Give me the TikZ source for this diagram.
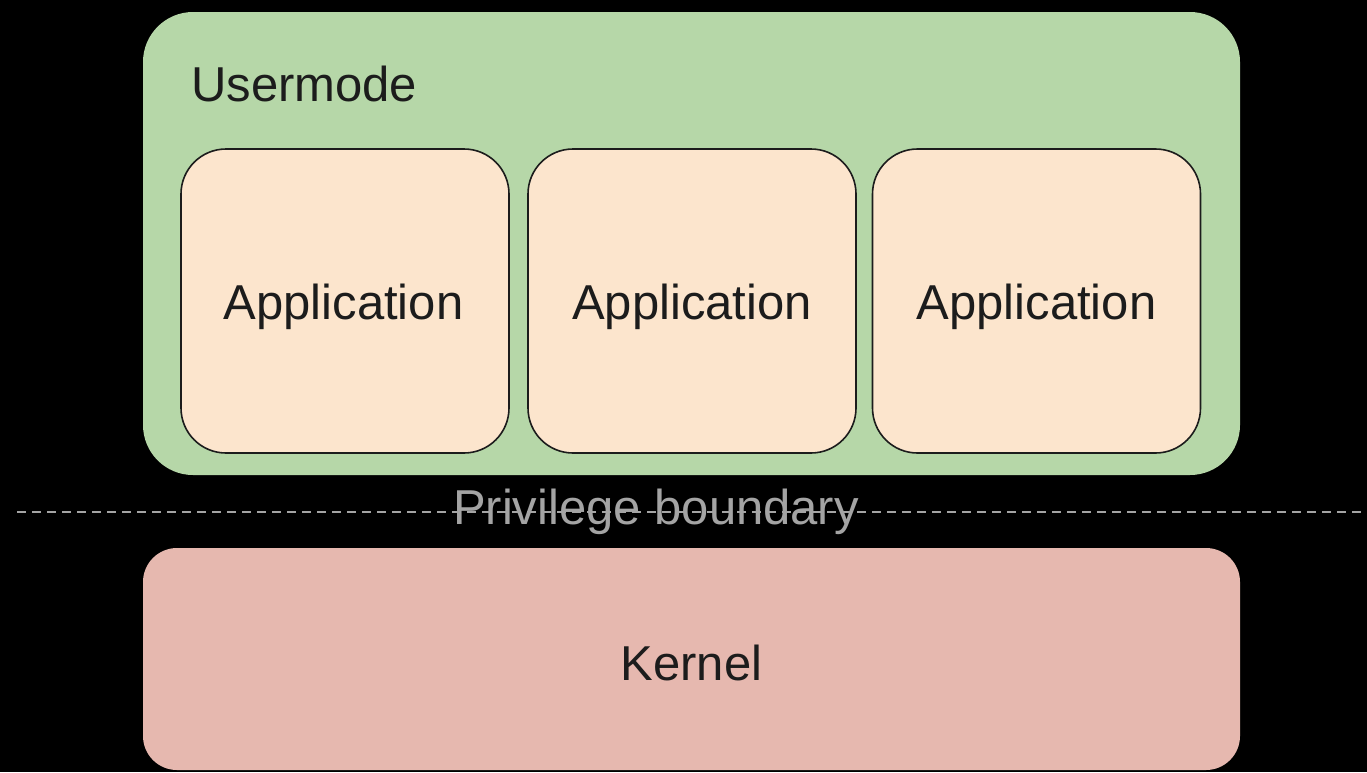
\documentclass[tikz,border=0pt]{standalone}
\usepackage{fontspec}
\setmainfont{Liberation Sans}
\definecolor{userbg}{HTML}{B6D7A8}
\definecolor{appbg}{HTML}{FCE5CD}
\definecolor{kernbg}{HTML}{E6B8AF}
\definecolor{ink}{HTML}{1C1C1C}
\definecolor{bound}{HTML}{A4A4A4}
\begin{document}
\begin{tikzpicture}[x=1pt,y=-1pt,
  every node/.style={inner sep=0pt, font=\fontsize{49}{58}\selectfont, text=ink},
  layer/.style={rounded corners=50pt, minimum width=1097pt},
  appbox/.style={draw=ink, line width=1.6pt, fill=appbg, rounded corners=45pt,
                 minimum width=328pt, minimum height=304pt,
                 text height=36pt, text depth=0pt},
  boundary/.style={bound, line width=1.6pt, dash pattern=on 9pt off 6pt}]
  % canvas
  \fill[black] (0,0) rectangle (1367,772);
  \useasboundingbox (0,0) rectangle (1367,772);

  % user-space layer with its three applications
  \node[layer, fill=userbg, minimum height=463pt] (user) at (691.5,243.5) {};
  \node[anchor=base west] (userlbl) at (191,101) {Usermode};
  \node[appbox] (app1) at (345,301) {\hspace*{-3pt}Application};
  \node[appbox] (app2) at (692,301) {Application};
  \node[appbox] (app3) at (1036.5,301) {Application};

  % privilege boundary
  \coordinate (bl) at (17,512);
  \coordinate (br) at (1367,512);
  \draw[boundary] (bl) -- (br);
  \node[text=bound, anchor=base] (blbl) at (656,524) {Privilege boundary};

  % kernel layer
  \node[fill=kernbg, rounded corners=34pt, minimum width=1097pt, minimum height=222pt,
        text height=42pt, text depth=0pt] (kernel) at (691.5,659) {Kernel};
\end{tikzpicture}
\end{document}
